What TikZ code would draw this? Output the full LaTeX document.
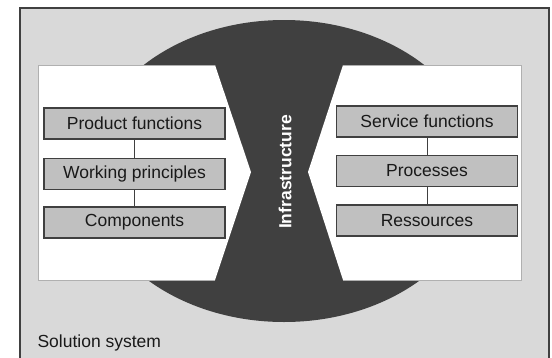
\documentclass[tikz,border=0pt]{standalone}
\usepackage{fontspec}
\setmainfont{Liberation Sans}
\usepackage{xcolor}
\definecolor{framegray}{HTML}{D9D9D9}
\definecolor{infragray}{HTML}{404040}
\definecolor{boxgray}{HTML}{C0C0C0}
\definecolor{panelline}{HTML}{B0B0B0}

\tikzset{
  level/.style={rectangle, draw=infragray, line width=1.3pt, fill=boxgray,
    minimum width=181pt, minimum height=31pt, inner sep=0pt,
    font=\fontsize{17.5}{19}\selectfont, text=black!90},
  link/.style={draw=infragray, line width=1pt}
}

\begin{document}
\begin{tikzpicture}[x=1pt, y=-1pt]
 	\useasboundingbox (0,0) rectangle (552,357);
 	% Background
 	\fill[framegray] (20,8) rectangle (549,360);
 	\draw[infragray, line width=1.5pt] (20,360) -- (20,8) -- (549,8) -- (549,360);
 	\fill[infragray] (284,171) ellipse [x radius=197pt, y radius=151pt];
 	% Panels
 	\fill[white] (38,65) -- (215,65) -- (251,172) -- (215,280) -- (38,280) -- cycle;
 	\draw[panelline] (215,65) -- (38,65) -- (38,280) -- (215,280);
 	\fill[white] (343,65) -- (521,65) -- (521,280) -- (343,280) -- (308,172) -- cycle;
 	\draw[panelline] (343,65) -- (521,65) -- (521,280) -- (343,280);
 	% Nodes
 	\node[level] (prodfn) at (134.5,123.5) {Product functions};
 	\node[level] (workpr) at (134.5,174) {Working principles};
 	\node[level] (compo) at (134.5,222.5) {Components};
 	\node[level] (servfn) at (427,121.5) {Service functions};
 	\node[level] (proc) at (427,171) {Processes};
 	\node[level] (ress) at (427,220.5) {Ressources};
 	\node[rotate=90, text=white, font=\bfseries\fontsize{17.5}{19}\selectfont] (infra) at (285,172) {Infrastructure};
 	\node[anchor=base west, font=\fontsize{17.5}{19}\selectfont, text=black!90] (sol) at (34,347) {Solution system};
 	% Edges
 	\draw[link] (prodfn) -- (workpr);
 	\draw[link] (workpr) -- (compo);
 	\draw[link] (servfn) -- (proc);
 	\draw[link] (proc) -- (ress);
\end{tikzpicture}
\end{document}
